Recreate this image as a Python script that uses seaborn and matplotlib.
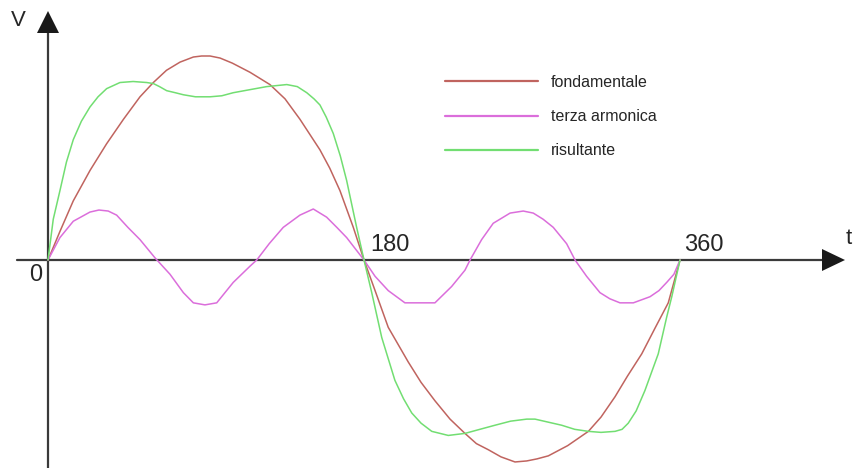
import pandas as pd
import matplotlib
matplotlib.use("Agg")
import matplotlib.pyplot as plt
import seaborn as sns

# valori (gradi, ampiezza relativa)
fond_deg = [0, 6.8, 14.4, 24.0, 33.4, 43.0, 52.4, 60.0, 67.5, 75.2, 82.8, 87.5, 92.3, 98.0,
            105.0, 115.1, 126.4, 135.0, 143.5, 154.9, 160.5, 166.3, 173.9, 180, 186.3,
            193.8, 205.2, 212.5, 220.4, 229.0, 237.5, 244.0, 250.8, 258.0, 266.0, 272.7,
            278.5, 285.0, 296.0, 307.8, 315.0, 323.0, 330.0, 338.2, 346.0, 353.3, 360]
fond_val = [0, 0.14, 0.29, 0.44, 0.57, 0.69, 0.80, 0.87, 0.93, 0.97, 0.995, 1.00, 1.00, 0.99,
            0.965, 0.92, 0.86, 0.79, 0.69, 0.54, 0.45, 0.34, 0.16, 0, -0.15,
            -0.33, -0.50, -0.60, -0.69, -0.78, -0.85, -0.90, -0.93, -0.965, -0.99, -0.985,
            -0.975, -0.96, -0.91, -0.84, -0.77, -0.67, -0.57, -0.46, -0.33, -0.21, 0]

terza_deg = [0, 6.8, 14.4, 23.9, 29.0, 34.3, 39.1, 45.5, 52.4, 61.0, 69.5, 77.1, 82.8, 89.4,
             96.1, 105.5, 115.1, 118.9, 126.0, 134.0, 143.5, 151.1, 158.7, 164.5, 170.1, 180,
             186.3, 193.8, 203.3, 212.9, 220.4, 229.9, 237.5, 240.4, 247.0, 253.6, 263.2,
             270.7, 276.4, 282.0, 287.8, 295.4, 300.2, 306.8, 314.4, 320.0, 325.8, 333.4,
             342.9, 348.0, 352.4, 356.5, 360]
terza_val = [0, 0.11, 0.19, 0.235, 0.245, 0.24, 0.22, 0.16, 0.10, 0.01, -0.07, -0.16, -0.21,
             -0.22, -0.21, -0.11, -0.03, 0, 0.08, 0.16, 0.22, 0.25, 0.21, 0.16, 0.11, 0,
             -0.08, -0.15, -0.21, -0.21, -0.21, -0.13, -0.05, 0, 0.10, 0.18, 0.23,
             0.24, 0.23, 0.20, 0.16, 0.08, 0, -0.08, -0.16, -0.19, -0.21, -0.21,
             -0.18, -0.15, -0.11, -0.07, 0]

ris_deg = [0, 3.0, 6.8, 10.5, 14.4, 19.0, 23.9, 28.5, 33.4, 41.0, 48.5, 56.2, 60.0, 63.5,
           67.6, 72.5, 77.1, 84.0, 92.3, 99.0, 105.5, 115.0, 124.6, 136.0, 142.0, 147.4,
           151.5, 154.9, 158.5, 162.5, 166.5, 170.1, 175.8, 180, 184.4, 190.1, 197.6, 202.5,
           207.2, 212.5, 218.6, 228.0, 237.5, 246.0, 254.6, 263.5, 272.7, 277.4, 285.0,
           292.6, 300.0, 307.8, 315.0, 323.0, 327.0, 330.5, 335.0, 340.0, 347.6, 352.4,
           355.3, 360]
ris_val = [0, 0.20, 0.34, 0.48, 0.59, 0.68, 0.75, 0.80, 0.84, 0.87, 0.875, 0.87, 0.865, 0.85,
           0.83, 0.82, 0.81, 0.80, 0.80, 0.805, 0.82, 0.835, 0.85, 0.86, 0.85, 0.82,
           0.79, 0.76, 0.70, 0.62, 0.51, 0.39, 0.16, 0, -0.16, -0.38, -0.59, -0.68,
           -0.75, -0.80, -0.84, -0.86, -0.85, -0.83, -0.81, -0.79, -0.78, -0.78, -0.795,
           -0.81, -0.83, -0.84, -0.845, -0.84, -0.83, -0.80, -0.74, -0.64, -0.46, -0.28,
           -0.18, 0]

etichette = ["fondamentale", "terza armonica", "risultante"]
colori = ["#c0645f", "#db6edb", "#72de72"]

df = pd.concat([
    pd.DataFrame({"t": fond_deg, "V": fond_val, "curva": etichette[0]}),
    pd.DataFrame({"t": terza_deg, "V": terza_val, "curva": etichette[1]}),
    pd.DataFrame({"t": ris_deg, "V": ris_val, "curva": etichette[2]}),
])

sns.set_style("white")
plt.rcParams["font.family"] = ["Liberation Sans", "DejaVu Sans"]

fig = plt.figure(figsize=(8.56, 4.68), dpi=100)
ax = fig.add_axes([0, 0, 1, 1])

# scala: 1 grado = 1/0.5696 px, ampiezza 1 = 204 px
xs = 0.5696
ys = 204.0
ax.set_xlim(-48 * xs, (856 - 48) * xs)
ax.set_ylim(-(468 - 260) / ys, 260 / ys)
ax.axis("off")

sns.lineplot(data=df, x="t", y="V", hue="curva", palette=colori, sort=False,
             estimator=None, linewidth=1.1, ax=ax, legend=False)

# assi con frecce
asse = "#3a3a3a"
ax.plot([-31 * xs, (823 - 48) * xs], [0, 0], color=asse, lw=1.6, zorder=1)
ax.fill([(822 - 48) * xs, (845 - 48) * xs, (822 - 48) * xs], [11 / ys, 0, -11 / ys],
        color="#1a1a1a", lw=0)
ax.plot([0, 0], [-(468 - 260) / ys, (260 - 32) / ys], color=asse, lw=1.6, zorder=1)
ax.fill([-11 * xs, 0, 11 * xs], [(260 - 33) / ys, (260 - 11) / ys, (260 - 33) / ys],
        color="#1a1a1a", lw=0)

ax.text(-30 * xs, (260 - 21) / ys, "V", fontsize=16, ha="center", va="center")
ax.text((849 - 48) * xs, (260 - 238) / ys, "t", fontsize=16, ha="center", va="center")
ax.text(-12 * xs, -15 / ys, "0", fontsize=17, ha="center", va="center")
ax.text(180 + 6 * xs, 15 / ys, "180", fontsize=17, ha="left", va="center")
ax.text(360 + 4 * xs, 15 / ys, "360", fontsize=17, ha="left", va="center")

handles = [plt.Line2D([], [], color=c, lw=1.6) for c in colori]
ax.legend(handles, etichette, loc="upper left", bbox_to_anchor=(445 / 856, 1 - 75 / 468),
          frameon=False, fontsize=11.5, handlelength=5.8, handletextpad=0.85,
          labelspacing=1.2, borderpad=0, borderaxespad=0)

plt.savefig("out.png", dpi=100)
